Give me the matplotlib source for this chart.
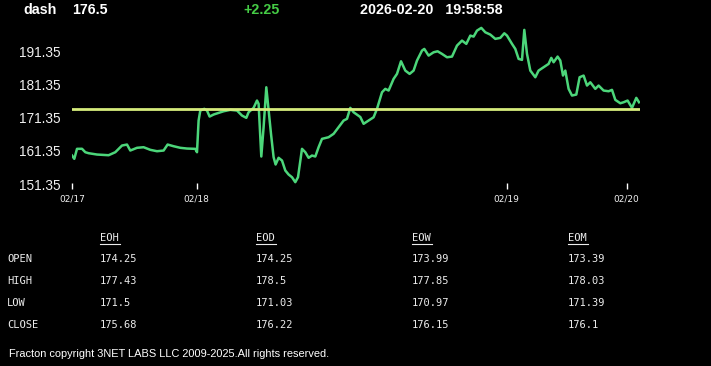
import matplotlib
matplotlib.use('Agg')
import matplotlib.pyplot as plt
from matplotlib.lines import Line2D

# Datos de la serie (posicion de muestra, precio)
t = [0, 2.3, 5, 10, 13.3, 16.6, 25, 36.6, 43.3, 50,
     55, 58.3, 65, 71.6, 78.3, 85, 91.6, 95.6, 101.6, 108.3,
     115, 123.3, 125, 126.6, 128.3, 132.3, 135, 137.6, 141.6, 146.6,
     151.6, 158.3, 165, 170, 174.3, 176.6, 181.6, 185, 186.6, 189.3,
     191.6, 194.3, 196.6, 199, 201.6, 203.6, 206.6, 210, 213.3, 216.6,
     220, 223.3, 226, 230, 233.3, 236.6, 240, 243.3, 246.6, 250,
     256.6, 261.6, 266.6, 271.6, 275, 278.3, 281.6, 288.3, 291.6, 296.6,
     301.6, 305, 310, 313.3, 316.6, 321.6, 325, 329, 333.3, 337.6,
     341.6, 345, 350, 352.3, 356.6, 361.6, 365.6, 370, 375, 380,
     385, 390, 394.3, 398.3, 401.6, 405, 409.3, 413.3, 418.3, 423.3,
     428.3, 432.3, 435, 440, 443.3, 446.6, 450, 452.3, 455, 458.3,
     463.3, 466.6, 471.6, 476.6, 479.3, 481.6, 485.6, 488.3, 491, 493.3,
     496.6, 500, 504.3, 507.6, 511.6, 515, 518.3, 523.3, 526.6, 531.6,
     536.6, 540, 543.3, 548.3, 551.6, 555.6, 560, 564.3, 567]
price = [159.96, 158.96, 161.98, 162.0, 160.96, 160.66, 160.26, 160.05, 160.96, 162.98,
         163.28, 161.47, 162.29, 162.47, 161.68, 161.26, 161.47, 163.28, 162.77, 162.29,
         162.07, 161.98, 160.96, 170.53, 173.56, 174.07, 173.56, 171.74, 172.35, 172.86,
         173.34, 173.77, 173.56, 172.04, 171.35, 173.04, 174.37, 176.58, 175.58, 159.66,
         168.51, 180.59, 173.56, 166.52, 159.45, 157.24, 159.27, 158.45, 155.43, 154.22,
         153.4, 151.9, 153.4, 161.98, 160.96, 159.27, 159.96, 159.66, 162.47, 165.0,
         165.49, 166.52, 168.51, 170.53, 171.05, 174.37, 173.04, 171.6, 169.54, 170.53,
         171.53, 174.07, 179.08, 180.11, 179.6, 183.13, 184.64, 188.45, 185.64, 184.64,
         185.64, 188.66, 191.68, 192.19, 190.17, 191.17, 191.47, 190.68, 189.66, 189.87,
         193.19, 194.7, 193.71, 196.21, 195.91, 197.72, 198.54, 197.21, 196.52, 195.22,
         195.52, 196.91, 196.21, 193.71, 192.19, 189.17, 188.87, 197.94, 190.68, 185.64,
         183.62, 185.64, 186.64, 187.66, 189.48, 188.15, 189.87, 188.66, 184.13, 185.64,
         180.11, 178.09, 178.39, 183.62, 184.13, 181.11, 182.11, 180.11, 181.11, 179.6,
         179.39, 179.81, 176.79, 175.76, 176.06, 176.58, 174.37, 177.39, 176.06]

ref_level = 173.99
y_ticks = [151.35, 161.35, 171.35, 181.35, 191.35]
x_tick_pos = [0, 124.6, 434.6, 554.6]
x_tick_labels = ['02/17', '02/18', '02/19', '02/20']

# Cabecera
symbol = 'dash'
last_price = '176.5'
change = '+2.25'
stamp = '2026-02-20   19:58:58'

# Tabla OHLC
col_names = ['EOH', 'EOD', 'EOW', 'EOM']
row_names = ['OPEN', 'HIGH', 'LOW', 'CLOSE']
open_vals = ['174.25', '174.25', '173.99', '173.39']
high_vals = ['177.43', '178.5', '177.85', '178.03']
low_vals = ['171.5', '171.03', '170.97', '171.39']
close_vals = ['175.68', '176.22', '176.15', '176.1']

W, H = 711, 366
fig = plt.figure(figsize=(W / 100, H / 100), dpi=100, facecolor='black')

# Ejes del grafico
ax = fig.add_axes([72 / W, 1 - 189 / H, (640 - 72) / W, (189 - 22) / H])
ax.set_facecolor('black')
for s in ax.spines.values():
    s.set_visible(False)

ax.plot(t, price, color='#4cd67a', lw=1.8, solid_joinstyle='round')
ax.axhline(ref_level, color='#d6ec7c', lw=2)

ax.set_xlim(0, 568)
ax.set_ylim(151.35 - 5 / 3.31, 191.35 + 29.7 / 3.31)

ax.set_yticks(y_ticks)
ax.set_yticklabels([f'{v:.2f}' for v in y_ticks], fontsize=9.8,
                   color='#f0f0f0', family='Liberation Sans')
ax.tick_params(axis='y', length=0, pad=8)

ax.set_xticks(x_tick_pos)
ax.set_xticklabels(x_tick_labels, fontsize=6.5, color='#f0f0f0')
ax.tick_params(axis='x', direction='in', length=4, width=1, color='white', pad=4)

# Cabecera
hdr = dict(color='white', fontsize=10.3, fontweight='bold', family='Liberation Sans',
           va='center')
fig.text(23 / W, 1 - 10 / H, symbol, **hdr)
fig.text(72 / W, 1 - 10 / H, last_price, **hdr)
fig.text(243 / W, 1 - 10 / H, change, **{**hdr, 'color': '#45cc45'})
fig.text(360 / W, 1 - 10 / H, stamp, **hdr)

# Tabla
mono = dict(color='#ececec', fontsize=7.5, family='DejaVu Sans Mono', va='center')
col_x = [100, 256, 412, 568]
row_y = [259, 281, 303, 325]
for x, name in zip(col_x, col_names):
    fig.text(x / W, 1 - 238 / H, name, **mono)
    fig.add_artist(Line2D([x / W, (x + 20) / W], [1 - 244 / H, 1 - 244 / H],
                          color='#ececec', lw=0.8))
rows = [open_vals, high_vals, low_vals, close_vals]
for y, name, vals in zip(row_y, row_names, rows):
    fig.text(7 / W, 1 - y / H, name, **mono)
    for x, v in zip(col_x, vals):
        fig.text(x / W, 1 - y / H, v, **mono)

fig.text(9 / W, 1 - 354 / H, 'Fracton copyright 3NET LABS LLC 2009-2025.All rights reserved.',
         color='white', fontsize=7.9, family='Liberation Sans', va='center')

fig.savefig('out.png', dpi=100, facecolor='black')
